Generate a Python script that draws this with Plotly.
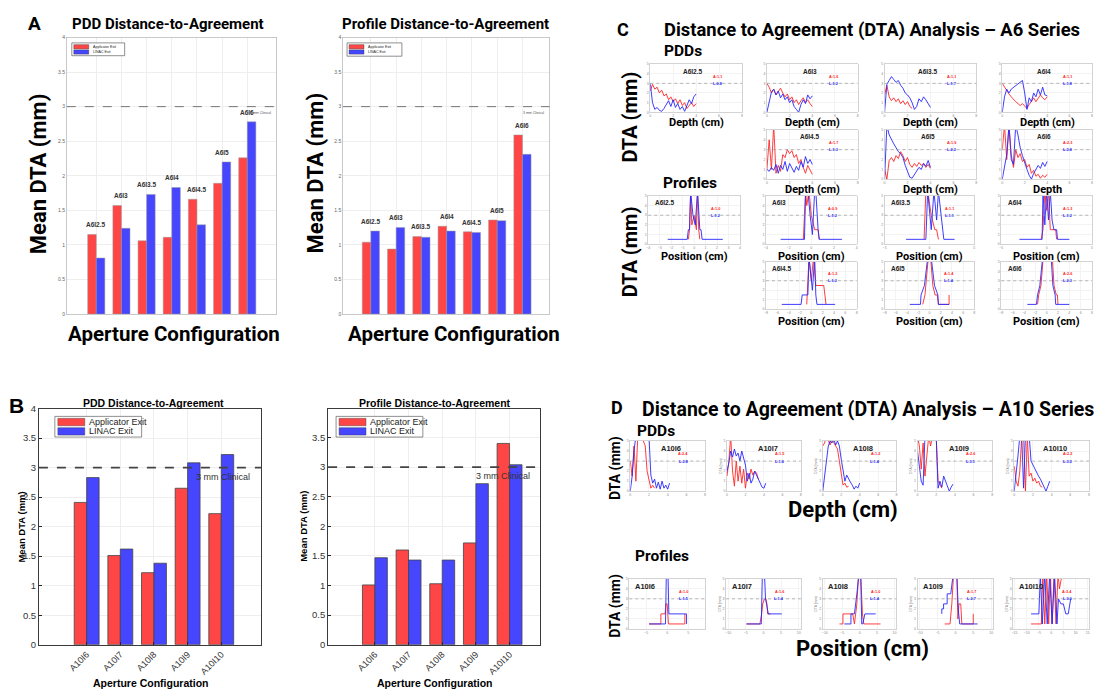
import plotly.graph_objects as go

W, H = 1098, 694

# ---------------- data ----------------
A6_CONFIGS = ["A6I2.5", "A6I3", "A6I3.5", "A6I4", "A6I4.5", "A6I5", "A6I6"]
A6_PDD_APPLICATOR = [1.15, 1.57, 1.06, 1.11, 1.66, 1.89, 2.26]
A6_PDD_LINAC = [0.81, 1.24, 1.73, 1.83, 1.29, 2.20, 2.78]
A6_PROFILE_APPLICATOR = [1.04, 0.94, 1.12, 1.27, 1.19, 1.36, 2.59]
A6_PROFILE_LINAC = [1.20, 1.25, 1.11, 1.20, 1.18, 1.35, 2.31]

A10_CONFIGS = ["A10I6", "A10I7", "A10I8", "A10I9", "A10I10"]
A10_PDD_APPLICATOR = [2.41, 1.51, 1.22, 2.65, 2.22]
A10_PDD_LINAC = [2.83, 1.62, 1.38, 3.08, 3.22]
A10_PROFILE_APPLICATOR = [1.01, 1.60, 1.03, 1.72, 3.40]
A10_PROFILE_LINAC = [1.47, 1.43, 1.43, 2.72, 3.04]

CLINICAL_THRESHOLD = 3.0
DEPTH_CM = [0.0, 0.2, 0.4, 0.6, 0.8, 1.0, 1.2, 1.4, 1.6, 1.8, 2.0,
            2.2, 2.4, 2.6, 2.8, 3.0, 3.2, 3.4, 3.6, 3.8, 4.0, 4.2]

# A6 PDD DTA curves (mm) sampled on DEPTH_CM
A6_PDD_APP_CURVES = [
    [2.2, 2.9, 2.4, 2.6, 2.0, 2.3, 1.7, 1.9, 1.3, 1.6, 1.1, 1.4, 0.9, 1.3, 0.7, 1.0, 0.4, 0.7, 1.0, 0.6, 0.9],
    [3.0, 2.6, 2.0, 2.4, 1.8, 2.2, 2.5, 2.0, 1.6, 1.9, 1.3, 1.6, 1.0, 1.3, 0.8, 1.2, 1.5, 1.0, 1.3, 0.9, 0.6],
    [1.8, 2.8, 1.6, 1.2, 1.5, 1.1, 1.4, 0.9, 1.2, 0.8, 1.1, 0.6, 0.4],
    [3.0, 2.6, 2.2, 1.9, 1.6, 1.3, 1.1, 0.9, 0.7, 0.9, 0.6, 0.4, 0.8, 1.2, 1.5, 1.1, 1.4, 1.8, 1.5, 1.3, 1.6],
    [1.0, 4.0, 1.0, 5.5, 0.6, 1.4, 0.8, 2.5, 2.2, 3.0, 2.6, 2.9, 2.2, 2.5, 1.6, 2.0, 1.2, 0.6, 1.4, 0.9, 0.5],
    [1.0, 0.0, 1.9, 2.2, 1.8, 2.4, 2.1, 2.8, 2.4, 1.8, 2.2, 1.5, 1.2, 1.6, 1.3, 1.7, 1.4, 1.6, 1.2, 1.5, 1.1],
    [3.0, 5.5, 2.0, 5.5, 2.5, 1.2, 3.0, 2.2, 2.6, 1.8, 2.0, 1.2, 1.5, 0.6, 0.9, 0.3, 0.5, 0.1, 0.4, 0.2, 0.5],
]
A6_PDD_LIN_CURVES = [
    [3.0, 1.0, 0.3, 0.5, 0.2, 0.1, 0.4, 0.8, 1.2, 0.6, 1.3, 0.5, 0.9, 0.3, 0.6, 0.1, 0.8, 1.3, 0.9, 1.6, 1.9],
    [0.0, 1.2, 2.1, 2.4, 1.8, 2.2, 1.5, 1.9, 1.3, 1.6, 1.0, 1.3, 0.6, 0.3, 0.0, 0.8, 1.3, 0.9, 1.8, 1.4, 1.7],
    [0.0, 2.9, 3.3, 3.7, 3.4, 3.1, 3.3, 2.8, 2.5, 2.0, 1.8, 1.5, 1.0, 0.3, 0.6, 1.4, 1.1, 1.6, 1.3, 0.9, 0.5],
    [0.0, 1.6, 2.4, 2.0, 2.4, 2.6, 2.8, 3.0, 3.2, 3.3, 2.0, 0.3, 1.5, 1.1, 2.0, 1.6, 2.4, 1.8, 2.6, 1.8, 1.7],
    [1.0, 0.8, 1.2, 0.9, 1.5, 0.6, 1.4, 1.0, 1.8, 0.8, 1.6, 1.1, 0.7, 1.3, 0.9, 1.8, 1.2, 2.3, 1.6, 2.0, 1.5],
    [0.0, 5.5, 4.5, 4.0, 3.6, 3.2, 2.8, 2.6, 2.2, 1.4, 0.8, 0.2, 0.1, 0.5, 0.8, 1.2, 1.0, 1.6, 1.3, 1.9, 1.2],
    [0.0, 1.5, 2.5, 5.5, 2.0, 1.5, 5.5, 4.5, 3.2, 2.4, 1.6, 1.0, 0.4, 0.0, 0.6, 1.0, 1.4, 1.1, 1.7, 1.3, 1.8],
]

# A6 profile DTA curves: positions (cm) and DTA (mm)
A6_PROF_APP_X = [
    [-0.5, -0.4, -0.3, -0.2, 0.0, 0.2, 0.3, 0.4, 0.5],
    [-0.7, -0.5, -0.4, -0.2, 0.0, 0.2, 0.3, 0.6, 0.7],
    [-0.6, -0.4, -0.2, 0.2, 0.6, 0.8, 1.0],
    [-0.6, -0.4, -0.2, 0.0, 0.2, 0.4, 0.7, 1.0, 1.1],
    [-0.8, -0.4, 0.0, 0.4, 0.8, 1.2, 2.2, 2.4, 2.6],
    [-1.2, -0.8, -0.2, 0.2, 0.6, 1.0, 1.4, 1.6, 3.5, 3.5],
    [-1.6, -1.4, -1.0, -0.6, 1.0, 1.3, 1.7, 1.9, 2.0],
]
A6_PROF_APP_Y = [
    [0.5, 1.5, 5.5, 2.0, 3.0, 1.5, 5.5, 1.5, 0.5],
    [0.5, 5.5, 4.0, 5.5, 3.0, 2.0, 1.5, 1.5, 0.5],
    [0.5, 5.5, 5.5, 3.0, 1.5, 1.5, 0.5],
    [0.5, 1.5, 5.5, 3.5, 5.5, 1.5, 1.5, 1.5, 0.5],
    [0.5, 5.5, 3.0, 5.5, 2.5, 2.5, 2.5, 1.5, 0.5],
    [0.5, 1.5, 5.5, 5.5, 2.5, 1.5, 1.5, 0.5, 0.5, 1.5],
    [0.5, 1.5, 2.5, 5.5, 5.5, 2.5, 1.5, 1.5, 0.5],
]
A6_PROF_LIN_X = [
    [-2.3, -0.6, -0.5, -0.4, -0.3, -0.1, 0.1, 0.3, 0.5, 0.6, 0.7, 2.5],
    [-2.7, -0.6, -0.5, -0.3, -0.1, 0.1, 0.3, 0.4, 0.6, 0.7, 2.7],
    [-2.6, -0.4, -0.2, 0.2, 0.5, 0.8, 1.0, 1.5, 1.6, 2.8],
    [-3.0, -0.5, -0.4, -0.2, 0.0, 0.2, 0.4, 0.6, 0.8, 1.1, 1.2, 2.5],
    [-5.2, -1.8, -1.6, -0.6, -0.4, 0.2, 0.6, 0.8, 1.0, 4.2],
    [-3.5, -1.6, -1.5, -0.9, -0.3, 0.3, 0.9, 1.5, 1.6, 3.5],
    [-3.4, -1.8, -1.6, -1.2, -0.7, 0.8, 1.1, 1.5, 1.6, 4.0],
]
A6_PROF_LIN_Y = [
    [0.5, 0.5, 1.5, 1.5, 5.5, 3.0, 2.0, 5.5, 1.5, 1.5, 0.5, 0.5],
    [0.5, 0.5, 5.5, 5.5, 3.0, 1.0, 5.5, 5.5, 1.5, 0.5, 0.5],
    [0.5, 0.5, 5.5, 1.5, 5.5, 2.5, 5.5, 1.5, 0.5, 0.5],
    [0.5, 0.5, 5.5, 2.0, 5.5, 2.5, 5.5, 2.5, 1.5, 1.5, 0.5, 0.5],
    [0.5, 0.5, 1.5, 1.5, 5.5, 2.0, 5.5, 1.5, 0.5, 0.5],
    [0.5, 0.5, 1.5, 2.5, 5.5, 5.5, 2.5, 1.5, 0.5, 0.5],
    [0.5, 0.5, 1.5, 2.5, 5.5, 5.5, 2.5, 1.5, 0.5, 0.5],
]

# A10 PDD DTA curves sampled on DEPTH_CM
A10_PDD_APP_CURVES = [
    [3.0, 1.5, 4.5, 1.0, 5.5, 5.5, 5.5, 5.0, 4.5, 2.0, 1.2, 0.3, 0.6, 0.3],
    [1.5, 3.0, 5.5, 2.0, 0.5, 3.0, 1.0, 2.5, 0.8, 2.2, 0.3, 1.8, 1.2, 2.2, 1.6, 2.0, 1.8, 1.2],
    [4.5, 4.8, 5.5, 5.0, 4.6, 5.2, 4.8, 4.5, 4.2, 3.0, 1.5, 0.6, 0.8, 0.4, 0.5],
    [5.5, 4.5, 2.2, 4.8, 1.5, 3.8, 5.5, 4.5, 5.5, 5.5, 5.5, 1.0, 0.6, 0.3],
    [2.5, 1.0, 0.5, 2.0, 5.5, 5.5, 0.0, 5.5, 1.5, 1.8, 1.0, 1.3, 0.8, 1.0, 0.5, 0.4],
]
A10_PDD_LIN_CURVES = [
    [0.0, 1.5, 4.0, 5.5, 5.5, 5.5, 5.5, 5.5, 5.5, 5.5, 5.5, 1.6, 0.8, 1.2, 0.3, 0.9, 0.2, 1.0, 0.3, 0.6, 0.2, 0.8],
    [2.0, 2.8, 4.0, 3.4, 4.2, 3.5, 3.8, 3.0, 4.0, 3.2, 2.6, 1.0, 1.8, 0.8, 1.2, 2.0, 1.6, 1.2, 0.8, 0.4, 0.3, 0.8],
    [0.0, 1.5, 3.0, 4.5, 5.0, 4.8, 5.2, 4.6, 5.0, 4.5, 3.2, 2.0, 1.0, 1.6, 1.2, 0.9, 0.6, 0.2, 0.5, 0.3, 0.8],
    [4.0, 2.5, 1.0, 0.6, 5.5, 5.5, 5.5, 5.5, 5.5, 5.5, 5.5, 0.3, 1.0, 0.4, 1.5, 1.0, 0.5, 0.0, 0.4, 0.7],
    [0.0, 1.5, 3.5, 5.5, 5.5, 0.3, 5.5, 5.5, 5.5, 3.0, 2.6, 2.2, 1.8, 1.5, 1.2, 0.8, 0.4, 0.0, 0.5, 1.0],
]

# A10 profile DTA curves
A10_PROF_APP_X = [
    [-4.3, -1.5, -1.5, -0.5, -0.3, 0.0, 0.3, 0.5, 4.2, 4.2],
    [-4.8, -1.0, -0.5, -0.2, 0.3, 0.7, 1.0, 1.2, 2.0],
    [-5.8, -4.8, -4.8, -2.0, -1.5, -0.8, -0.3, 0.3, 0.8, 1.2, 6.0],
    [-3.0, -1.5, -1.0, -0.5, 0.4, 0.7, 1.0, 1.5, 1.8, 2.5, 5.0, 5.0],
    [-8.2, -4.0, -3.4, -2.6, -1.8, -1.0, -0.3, 0.4, 1.2, 2.0, 2.8, 3.4, 4.0, 4.5],
]
A10_PROF_APP_Y = [
    [0.5, 0.5, 1.5, 1.5, 2.5, 2.5, 0.5, 0.5, 0.5, 1.5],
    [0.5, 0.5, 1.5, 2.5, 3.0, 3.0, 2.5, 1.5, 1.5],
    [0.5, 0.5, 1.5, 1.5, 0.5, 2.5, 5.5, 5.5, 1.5, 0.5, 0.5],
    [0.5, 0.5, 2.5, 5.5, 5.5, 1.0, 2.5, 2.5, 0.5, 0.5, 0.5, 1.5],
    [0.5, 0.5, 5.5, 0.5, 5.5, 0.5, 5.5, 0.5, 5.5, 0.5, 5.5, 4.0, 4.8, 5.5],
]
A10_PROF_LIN_X = [
    [-4.3, -0.4, -0.2, 0.0, 0.2, 0.4, 4.6, 4.6],
    [-4.8, -0.6, -0.3, 0.3, 0.6, 1.0, 1.4, 5.2],
    [-4.4, -2.5, -2.5, -1.5, -0.8, -0.2, 0.3, 0.6, 0.9, 1.5, 1.5, 4.6],
    [-3.8, -3.8, -3.3, -3.3, -2.3, -2.3, -1.3, -0.6, 0.4, 0.8, 1.2, 6.2],
    [-8.2, -5.0, -4.4, -3.6, -2.6, -1.6, -0.6, 0.4, 1.4, 2.4, 3.0, 4.0, 5.0, 6.0, 7.0, 8.0],
]
A10_PROF_LIN_Y = [
    [0.5, 0.5, 5.5, 5.5, 5.5, 1.5, 1.5, 0.5],
    [0.5, 0.5, 5.5, 5.5, 3.0, 2.0, 1.5, 1.5],
    [0.5, 0.5, 1.5, 1.5, 3.5, 5.5, 5.5, 0.5, 0.5, 1.5, 1.5, 1.5],
    [1.5, 2.0, 2.0, 2.5, 2.5, 3.5, 3.5, 5.5, 5.5, 2.0, 0.5, 0.5],
    [1.5, 1.5, 5.5, 0.5, 5.5, 0.5, 5.5, 0.5, 5.5, 0.5, 3.0, 2.5, 2.5, 1.5, 1.5, 3.0],
]

# ---------------- styling ----------------
RED = "#ff4646"
BLUE = "#4646ff"
LRED = "rgba(255,40,40,0.9)"
LBLUE = "rgba(40,40,255,0.9)"
MAT = "Liberation Sans, Arial, sans-serif"
PPT = "Roboto, Liberation Sans, sans-serif"

fig = go.Figure()
layout = dict(width=W, height=H, margin=dict(l=0, r=0, t=0, b=0),
              paper_bgcolor="white", plot_bgcolor="white", showlegend=False,
              barmode="overlay")
shapes = []
annots = []
counter = [0]


def sfx(n):
    return "" if n == 1 else str(n)


def new_axes(box, xkw, ykw):
    counter[0] += 1
    n = counter[0]
    x0, y0, x1, y1 = box
    layout["xaxis" + sfx(n)] = dict(domain=[x0 / W, x1 / W], anchor="y" + sfx(n), **xkw)
    layout["yaxis" + sfx(n)] = dict(domain=[1 - y1 / H, 1 - y0 / H], anchor="x" + sfx(n), **ykw)
    return "x" + sfx(n), "y" + sfx(n)


def text(x, y, s, size, color="black", family=PPT, bold=True, xanchor="center",
         yanchor="middle", angle=0):
    annots.append(dict(xref="paper", yref="paper", x=x / W, y=1 - y / H,
                       text=("<b>%s</b>" % s) if bold else s, showarrow=False,
                       font=dict(size=size, color=color, family=family),
                       xanchor=xanchor, yanchor=yanchor, textangle=angle))


def threshold_line(xr, yr, color, width, dash="dash"):
    shapes.append(dict(type="line", xref=xr + " domain", x0=0, x1=1, yref=yr,
                       y0=CLINICAL_THRESHOLD, y1=CLINICAL_THRESHOLD,
                       line=dict(color=color, width=width, dash=dash), layer="above"))


def legend_box(box, sw_x, rows, size):
    x0, y0, x1, y1 = box
    shapes.append(dict(type="rect", xref="paper", yref="paper", x0=x0 / W, x1=x1 / W,
                       y0=1 - y1 / H, y1=1 - y0 / H, fillcolor="white",
                       line=dict(color="#444", width=0.6), layer="above"))
    for (yt, yb, col, lab) in rows:
        shapes.append(dict(type="rect", xref="paper", yref="paper", x0=sw_x[0] / W,
                           x1=sw_x[1] / W, y0=1 - yb / H, y1=1 - yt / H,
                           fillcolor=col, line=dict(color="#333", width=0.4), layer="above"))
        text(sw_x[1] + 2, (yt + yb) / 2, lab, size, "#222", MAT, False, "left")


def bar_panel(box, cats, app, lin, xrange, width, big, yrange, ytickvals):
    xr, yr = new_axes(
        box,
        dict(type="category", range=xrange, showline=True, mirror=True,
             linecolor="#bbbbbb" if big else "#262626", linewidth=0.8 if big else 0.9,
             showgrid=True, gridcolor="#eeeeee", ticks="" if big else "inside",
             ticklen=3, tickcolor="#262626",
             showticklabels=not big, tickangle=-45,
             tickfont=dict(size=9, color="#333", family=MAT)),
        dict(range=yrange, tickvals=ytickvals, showline=True, mirror=True,
             linecolor="#bbbbbb" if big else "#262626", linewidth=0.8 if big else 0.9,
             showgrid=True, gridcolor="#eeeeee", zeroline=False,
             ticks="" if big else "inside", ticklen=3, tickcolor="#262626",
             tickfont=dict(size=5 if big else 9.5, color="#666" if big else "#333",
                           family=MAT)))
    edge = dict(color="#999" if big else "#444", width=0.5 if big else 0.8)
    fig.add_trace(go.Bar(x=cats, y=app, xaxis=xr, yaxis=yr, width=width, offset=-width,
                         marker=dict(color=RED, line=edge), hoverinfo="skip"))
    fig.add_trace(go.Bar(x=cats, y=lin, xaxis=xr, yaxis=yr, width=width, offset=0,
                         marker=dict(color=BLUE, line=edge), hoverinfo="skip"))
    threshold_line(xr, yr, "#555" if big else "#444", 0.8 if big else 1.8)
    annots.append(dict(xref=xr + " domain", yref=yr, x=0.985 if big else 0.96,
                       y=CLINICAL_THRESHOLD - 0.04, text="3 mm Clinical", showarrow=False,
                       xanchor="right", yanchor="top",
                       font=dict(size=3.5 if big else 9, color="#555" if big else "#333",
                                 family=MAT)))
    if big:
        for c, a, b in zip(cats, app, lin):
            annots.append(dict(xref=xr, yref=yr, x=c, y=max(a, b) + 0.06, text="<b>%s</b>" % c,
                               showarrow=False, yanchor="bottom", xanchor="center",
                               font=dict(size=6.5, color="#333", family=MAT)))
    return xr, yr


# ---------------- panel A ----------------
bar_panel((65, 32, 275, 313), A6_CONFIGS, A6_PDD_APPLICATOR, A6_PDD_LINAC,
          [-1.17, 7.15], 0.34, True, [0, 4], [0, 0.5, 1, 1.5, 2, 2.5, 3, 3.5, 4])
bar_panel((342, 32, 549, 313), A6_CONFIGS, A6_PROFILE_APPLICATOR, A6_PROFILE_LINAC,
          [-1.1, 7.07], 0.34, True, [0, 4], [0, 0.5, 1, 1.5, 2, 2.5, 3, 3.5, 4])
legend_box((70, 37.5, 123, 50.5), (72, 87), [(39.3, 43.6, RED, "Applicator Exit"),
                                             (44.6, 48.9, BLUE, "LINAC Exit")], 3.6)
legend_box((346, 37.5, 401, 51), (348, 363), [(39.3, 43.6, RED, "Applicator Exit"),
                                              (44.6, 48.9, BLUE, "LINAC Exit")], 3.6)
text(33, 18, "A", 19)
text(166, 18, "PDD Distance-to-Agreement", 15)
text(445, 18, "Profile Distance-to-Agreement", 15)
text(36, 170, "Mean DTA (mm)", 22, angle=-90)
text(314, 170, "Mean DTA (mm)", 22, angle=-90)
text(172, 333, "Aperture Configuration", 20.5)
text(453, 333, "Aperture Configuration", 20.5)

# ---------------- panel B ----------------
bar_panel((37, 409, 260, 649), A10_CONFIGS, A10_PDD_APPLICATOR, A10_PDD_LINAC,
          [-1.42, 5.19], 0.37, False, [0, 4], [0, 0.5, 1, 1.5, 2, 2.5, 3, 3.5, 4])
bar_panel((327, 409, 540, 649), A10_CONFIGS, A10_PROFILE_APPLICATOR, A10_PROFILE_LINAC,
          [-1.39, 4.92], 0.37, False, [0, 3.99], [0, 0.5, 1, 1.5, 2, 2.5, 3, 3.5])
legend_box((53, 417, 140, 438), (56, 83), [(419, 426.5, RED, "Applicator Exit"),
                                           (428.5, 436, BLUE, "LINAC Exit")], 9)
legend_box((335, 417, 422, 438), (338, 365), [(419, 426.5, RED, "Applicator Exit"),
                                              (428.5, 436, BLUE, "LINAC Exit")], 9)
text(15, 406, "B", 21, family=MAT)
text(152, 403, "PDD Distance-to-Agreement", 10.5, family=MAT)
text(434, 403, "Profile Distance-to-Agreement", 10.5, family=MAT)
text(20, 529, "Mean DTA (mm)", 9.5, family=MAT, angle=-90)
text(302, 529, "Mean DTA (mm)", 9.5, family=MAT, angle=-90)
text(149, 688, "Aperture Configuration", 10.5, family=MAT)
text(434, 688, "Aperture Configuration", 10.5, family=MAT)


# ---------------- mini plots ----------------
def mini(box, xs_a, ys_a, xs_l, ys_l, xrange, xdtick, title, title_pos, a_val, l_val,
         ytitle=False, title_size=6.5):
    xr, yr = new_axes(
        box,
        dict(range=xrange, dtick=xdtick, showline=True, mirror=True, linecolor="#c8c8c8",
             linewidth=0.8, showgrid=True, gridcolor="#f3f3f3", zeroline=False, ticks="",
             tickfont=dict(size=3.5, color="#888", family=MAT)),
        dict(range=[0, 5], dtick=1, showline=True, mirror=True, linecolor="#c8c8c8",
             linewidth=0.8, showgrid=True, gridcolor="#f3f3f3", zeroline=False, ticks="",
             tickfont=dict(size=3.5, color="#888", family=MAT),
             title=dict(text="DTA (mm)" if ytitle else "", standoff=1,
                        font=dict(size=3.5, color="#888", family=MAT))))
    fig.add_trace(go.Scatter(x=xs_a, y=ys_a, xaxis=xr, yaxis=yr, mode="lines",
                             line=dict(color=LRED, width=1.0), hoverinfo="skip"))
    fig.add_trace(go.Scatter(x=xs_l, y=ys_l, xaxis=xr, yaxis=yr, mode="lines",
                             line=dict(color=LBLUE, width=1.0), hoverinfo="skip"))
    threshold_line(xr, yr, "#9a9a9a", 0.7, "dot")
    tx, txa = title_pos
    annots.append(dict(xref=xr + " domain", yref=yr + " domain", x=tx, y=0.97,
                       text="<b>%s</b>" % title, showarrow=False, xanchor=txa, yanchor="top",
                       font=dict(size=title_size, color="#222", family=MAT)))
    annots.append(dict(xref=xr + " domain", yref=yr + " domain", x=0.8, y=0.82,
                       text="<b>A:%.1f</b>" % a_val, showarrow=False,
                       font=dict(size=3.8, color="#ff2020", family=MAT)))
    annots.append(dict(xref=xr + " domain", yref=yr + " domain", x=0.8, y=0.67,
                       text="<b>L:%.1f</b>" % l_val, showarrow=False,
                       font=dict(size=3.8, color="#2020ff", family=MAT)))
    return xr, yr


# Panel C -- A6 series
C_PDD_BOXES = [(650, 59, 742, 108), (767, 59, 858, 108), (885, 59, 977, 108),
               (1003, 59, 1093, 108), (767, 126, 858, 176), (885, 126, 977, 176),
               (1003, 126, 1093, 176)]
C_PROF_BOXES = [(648, 193, 740, 242), (766, 193, 857, 242), (885, 193, 975, 242),
                (1002, 193, 1093, 242), (766, 260, 857, 308), (885, 260, 975, 308),
                (1002, 260, 1093, 308)]
C_PROF_RANGES = [[-4, 4], [-4, 4], [-5, 5], [-5, 5], [-8, 8], [-8, 8], [-8, 8]]
C_PROF_DTICKS = [1, 2, 5, 5, 2, 2, 2]

for i, cfg in enumerate(A6_CONFIGS):
    ya, yl = A6_PDD_APP_CURVES[i], A6_PDD_LIN_CURVES[i]
    mini(C_PDD_BOXES[i], DEPTH_CM[:len(ya)], ya, DEPTH_CM[:len(yl)], yl, [0, 8], 2,
         cfg, (0.47, "center"), A6_PDD_APPLICATOR[i], A6_PDD_LINAC[i])
    bx = C_PDD_BOXES[i]
    text((bx[0] + bx[2]) / 2, bx[3] + 10, "Depth" if i == 6 else "Depth (cm)", 11)
for i, cfg in enumerate(A6_CONFIGS):
    mini(C_PROF_BOXES[i], A6_PROF_APP_X[i], A6_PROF_APP_Y[i], A6_PROF_LIN_X[i],
         A6_PROF_LIN_Y[i], C_PROF_RANGES[i], C_PROF_DTICKS[i], cfg, (0.05, "left"),
         A6_PROFILE_APPLICATOR[i], A6_PROFILE_LINAC[i])
    bx = C_PROF_BOXES[i]
    text((bx[0] + bx[2]) / 2, bx[3] + 13, "Position (cm)", 11)

text(623, 24, "C", 18)
text(662, 24, "Distance to Agreement (DTA) Analysis \u2013 A6 Series", 18.4, xanchor="left")
text(662, 46, "PDDs", 15.5, xanchor="left")
text(661, 180, "Profiles", 15.5, xanchor="left")
text(630, 113, "DTA (mm)", 20, angle=-90)
text(630, 250, "DTA (mm)", 20, angle=-90)

# Panel D -- A10 series
D_PDD_BOXES = [(630, 442, 705, 493), (727, 442, 801, 493), (823, 442, 897, 493),
               (918, 442, 993, 493), (1015, 442, 1090, 493)]
D_PROF_BOXES = [(629, 582, 705, 633), (726, 582, 801, 633), (823, 582, 897, 633),
                (918, 582, 994, 633), (1014, 582, 1090, 633)]
D_PROF_RANGES = [[-9, 9], [-10.6, 10.6], [-10.6, 10.6], [-10.6, 10.6], [-15.5, 15.5]]

for i, cfg in enumerate(A10_CONFIGS):
    ya, yl = A10_PDD_APP_CURVES[i], A10_PDD_LIN_CURVES[i]
    mini(D_PDD_BOXES[i], DEPTH_CM[:len(ya)], ya, DEPTH_CM[:len(yl)], yl, [0, 8], 2,
         cfg, (0.55, "center"), A10_PDD_APPLICATOR[i], A10_PDD_LINAC[i],
         ytitle=i > 0, title_size=7.5)
for i, cfg in enumerate(A10_CONFIGS):
    mini(D_PROF_BOXES[i], A10_PROF_APP_X[i], A10_PROF_APP_Y[i], A10_PROF_LIN_X[i],
         A10_PROF_LIN_Y[i], D_PROF_RANGES[i], 5, cfg, (0.05, "left"),
         A10_PROFILE_APPLICATOR[i], A10_PROFILE_LINAC[i], ytitle=i > 0, title_size=7.5)

text(617, 408, "D", 18)
text(640, 410, "Distance to Agreement (DTA) Analysis \u2013 A10 Series", 19.5, xanchor="left")
text(635, 432, "PDDs", 15.5, xanchor="left")
text(633, 559, "Profiles", 15.5, xanchor="left")
text(615, 469, "DTA (mm)", 14, angle=-90)
text(615, 609, "DTA (mm)", 14, angle=-90)
text(843, 512, "Depth (cm)", 22)
text(863, 653, "Position (cm)", 22)

layout["shapes"] = shapes
layout["annotations"] = annots
fig.update_layout(**layout)
fig.write_html("out.html", config={"displayModeBar": False, "staticPlot": True},
               post_script="document.body.style.margin='0';"
                           "document.body.style.overflow='hidden';")
